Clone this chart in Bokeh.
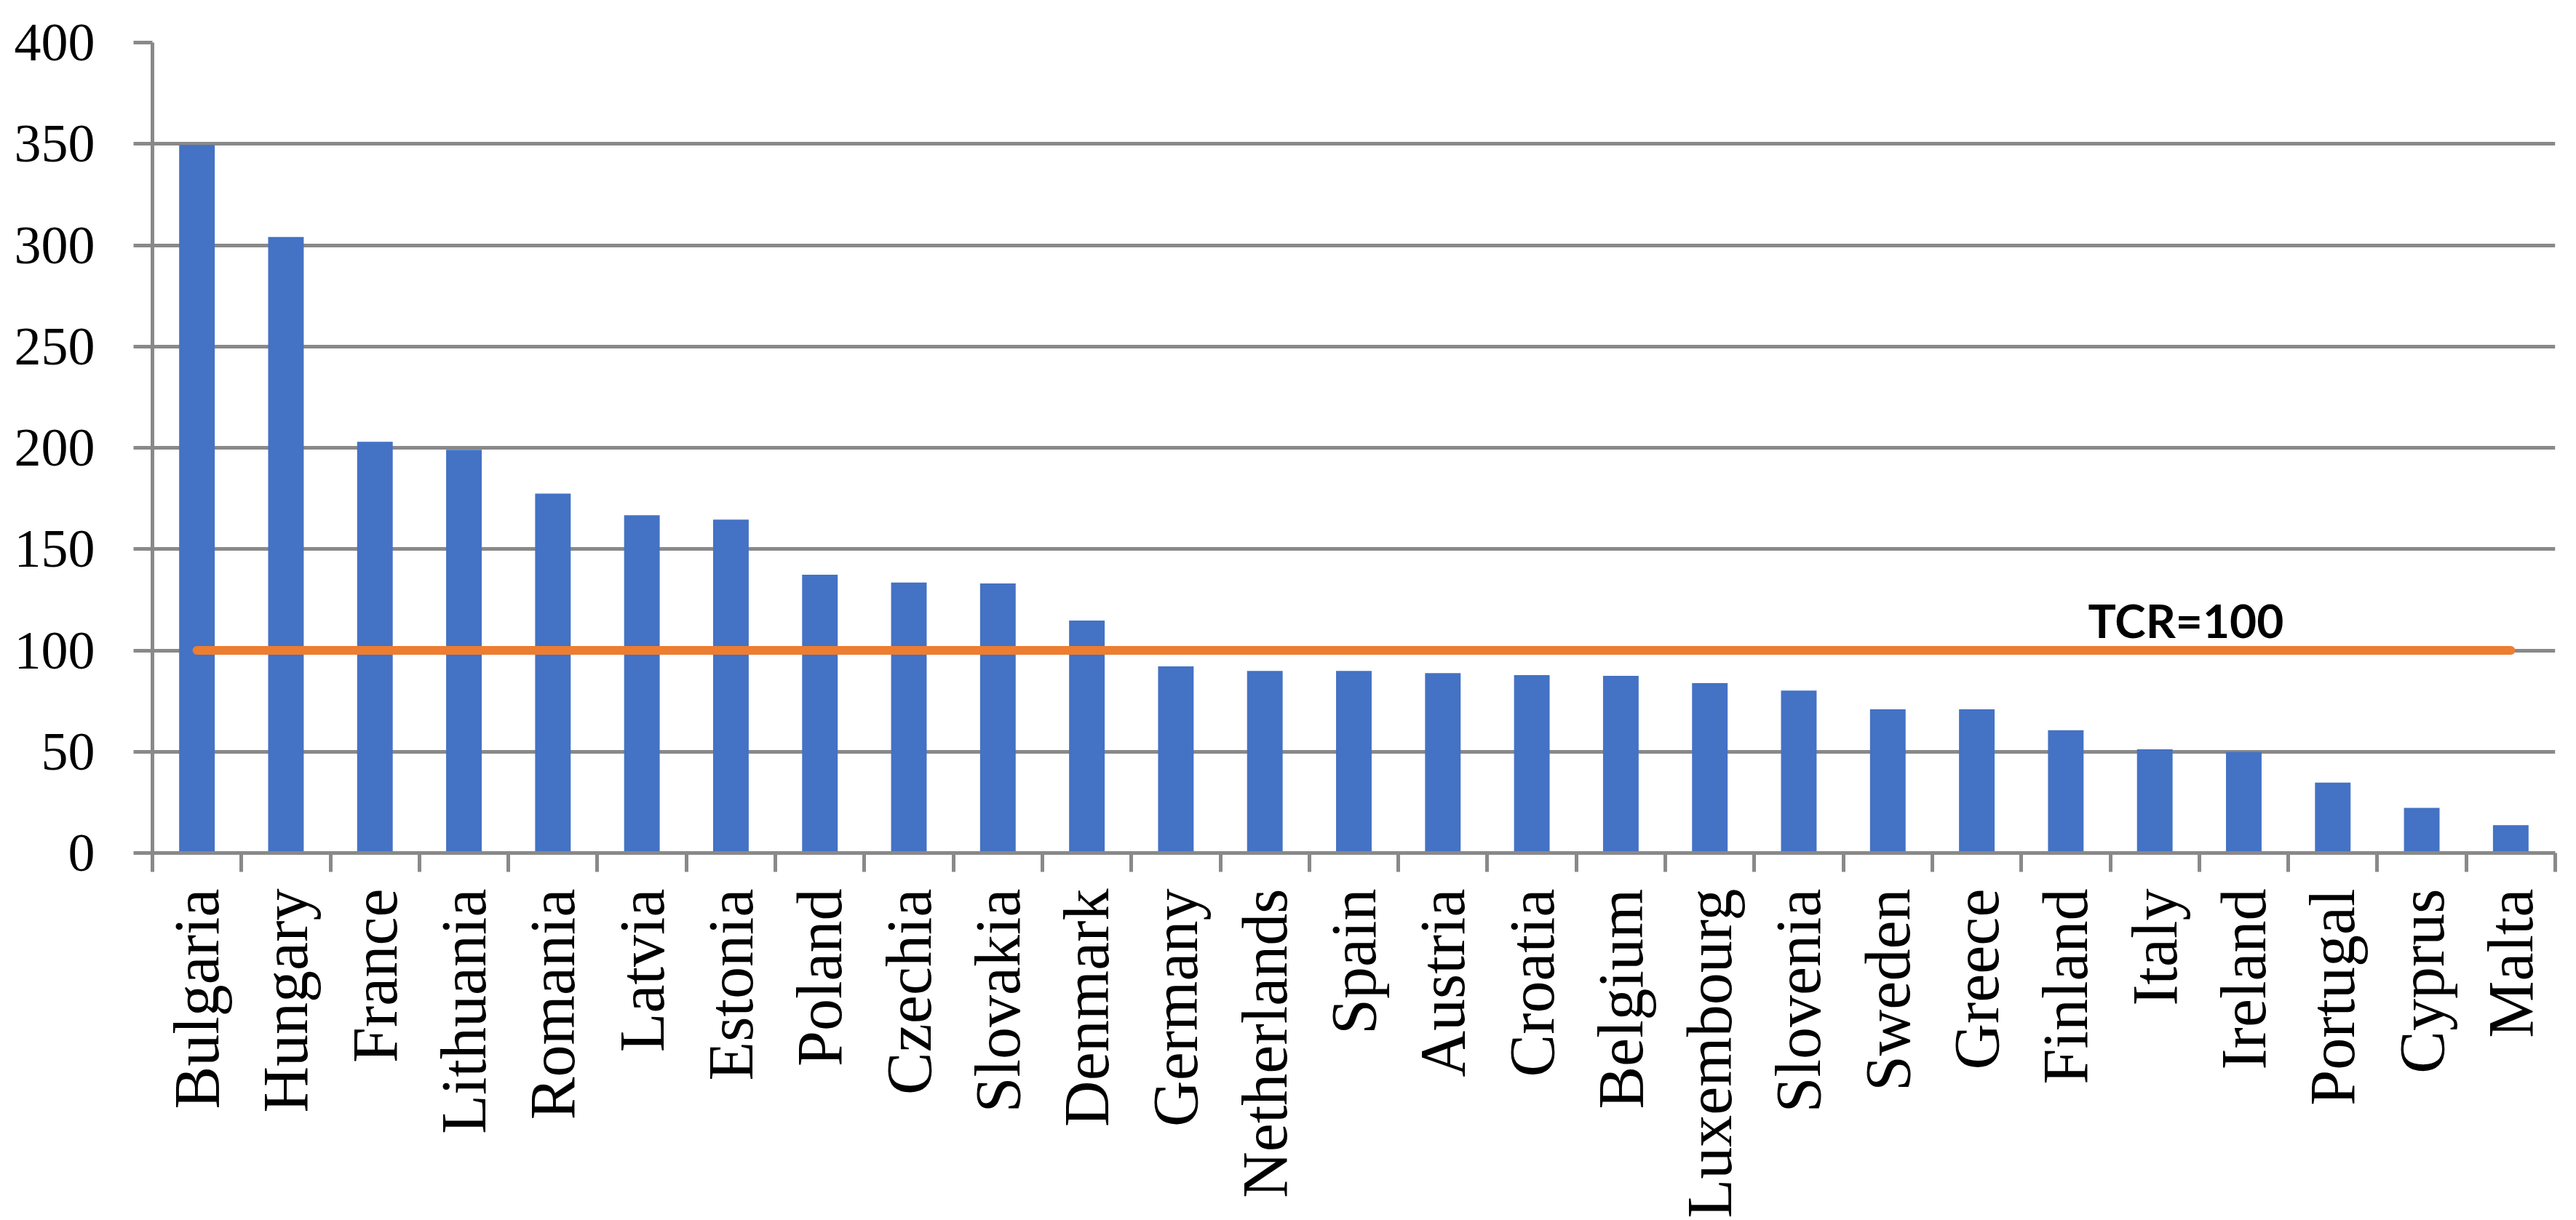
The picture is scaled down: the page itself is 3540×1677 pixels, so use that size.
import numpy as np
from bokeh.plotting import figure
from bokeh.models import Range1d, FixedTicker, Label
from bokeh.embed import file_html
from bokeh.resources import INLINE

countries = ["Bulgaria", "Hungary", "France", "Lithuania", "Romania", "Latvia", "Estonia",
             "Poland", "Czechia", "Slovakia", "Denmark", "Germany", "Netherlands", "Spain",
             "Austria", "Croatia", "Belgium", "Luxembourg", "Slovenia", "Sweden", "Greece",
             "Finland", "Italy", "Ireland", "Portugal", "Cyprus", "Malta"]
values = [349.5, 304.0, 203.0, 199.0, 177.4, 166.7, 164.5, 137.3, 133.5, 133.0, 114.7,
          92.1, 89.9, 89.9, 88.8, 87.8, 87.4, 83.8, 80.2, 70.9, 70.9, 60.6, 51.2, 49.8,
          34.7, 22.3, 13.7]
tcr_level = 100
tcr_label = "TCR=100"
y_ticks = [0, 50, 100, 150, 200, 250, 300, 350, 400]

n = len(countries)
centers = np.arange(n) + 0.5
bounds = list(np.arange(n + 1).astype(float))

GRAY = "#898989"
BLUE = "#4472C4"
ORANGE = "#ED7D31"

W, H = 3540, 1677
p = figure(width=W, height=H, output_backend="svg", toolbar_location=None,
           x_range=Range1d(0, n), y_range=Range1d(0, 400),
           min_border_left=209, min_border_top=58, min_border_right=W - 3511,
           min_border_bottom=H - 1172)
p.outline_line_color = None
p.background_fill_color = "white"
p.border_fill_color = "white"

p.vbar(x=centers, top=values, bottom=0, width=0.4, color=BLUE, line_color=None)
p.line(x=[centers[0], centers[-1]], y=[tcr_level, tcr_level], line_color=ORANGE,
       line_width=12, line_cap="round")

p.add_layout(Label(x=21.75, y=115.0, text=tcr_label, text_font="Lato",
                   text_font_style="bold", text_font_size="64px",
                   text_color="black", text_baseline="alphabetic"))

# y axis
p.yaxis.ticker = FixedTicker(ticks=y_ticks, minor_ticks=[])
p.yaxis.axis_line_color = GRAY
p.yaxis.axis_line_width = 5
p.yaxis.major_tick_line_color = GRAY
p.yaxis.major_tick_line_width = 5
p.yaxis.major_tick_out = 26
p.yaxis.major_tick_in = 0
p.yaxis.minor_tick_line_color = None
p.yaxis.major_label_standoff = 53
p.yaxis.major_label_text_font = "Liberation Serif"
p.yaxis.major_label_text_font_size = "74px"
p.yaxis.major_label_text_color = "black"

# x axis
p.xaxis.ticker = FixedTicker(ticks=list(centers), minor_ticks=bounds)
p.xaxis.major_label_overrides = {float(c): name for c, name in zip(centers, countries)}
p.xaxis.axis_line_color = GRAY
p.xaxis.axis_line_width = 5
p.xaxis.major_tick_line_color = None
p.xaxis.major_tick_out = 0
p.xaxis.major_tick_in = 0
p.xaxis.minor_tick_line_color = GRAY
p.xaxis.minor_tick_line_width = 5
p.xaxis.minor_tick_out = 26
p.xaxis.minor_tick_in = 0
p.xaxis.major_label_orientation = np.pi / 2
p.xaxis.major_label_standoff = 23
p.xaxis.major_label_text_font = "Liberation Serif"
p.xaxis.major_label_text_font_size = "88px"
p.xaxis.major_label_text_color = "black"

p.xgrid.grid_line_color = None
p.ygrid.grid_line_color = GRAY
p.ygrid.grid_line_width = 5

open("out.html", "w").write(file_html(p, INLINE))
